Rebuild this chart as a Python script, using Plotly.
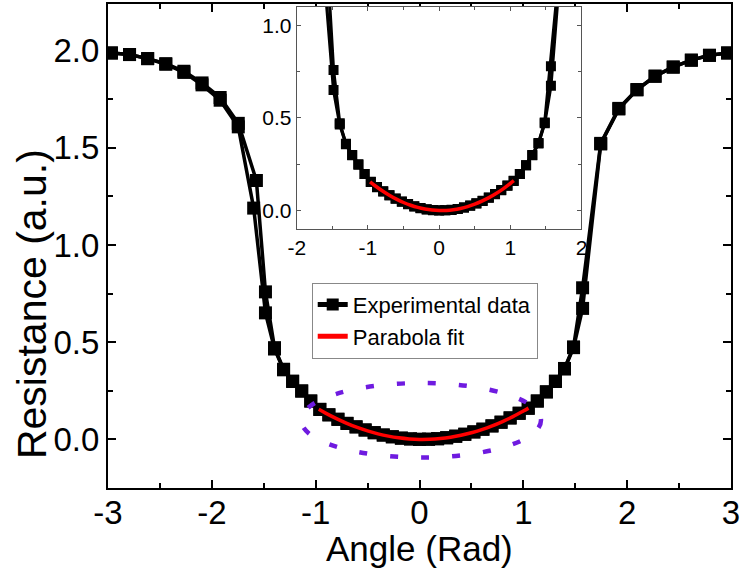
import numpy as np
import plotly.graph_objects as go

# Measured resistance vs. rotation angle (two sweeps, nearly identical)
angle_deg_a = [-170, -160, -150, -140, -130, -120, -110, -100, -90, -85, -80, -75, -70,
               -65, -60, -55, -50, -45, -40, -35, -30, -25, -20, -15, -10, -5, 0,
               5, 10, 15, 20, 25, 30, 35, 40, 45, 50, 55, 60, 65, 70, 75, 80, 85,
               90, 100, 110, 120, 130, 140, 150, 160, 170]
resistance_a = [1.988, 1.980, 1.959, 1.933, 1.894, 1.834, 1.759, 1.626, 1.332, 0.759,
                0.472, 0.361, 0.300, 0.250, 0.198, 0.155, 0.127, 0.104, 0.083, 0.065,
                0.049, 0.035, 0.023, 0.014, 0.007, 0.003, 0.001, 0.001, 0.004, 0.009,
                0.017, 0.027, 0.039, 0.053, 0.070, 0.089, 0.111, 0.135, 0.161, 0.198,
                0.245, 0.300, 0.365, 0.476, 0.780, 1.523, 1.703, 1.800, 1.869, 1.916,
                1.951, 1.976, 1.988]

angle_deg_b = [-170, -160, -150, -140, -130, -120, -110, -100, -91.5, -85, -80, -75, -70,
               -65, -60, -55, -50, -45, -40, -35, -30, -25, -20, -15, -10, -5, 0,
               5, 10, 15, 20, 25, 30, 35, 40, 45, 50, 55, 60, 65, 70, 75, 80, 85,
               90, 100, 110, 120, 130, 140, 150, 160, 170]
resistance_b = [1.988, 1.980, 1.959, 1.930, 1.888, 1.824, 1.745, 1.608, 1.190, 0.651,
                0.465, 0.358, 0.298, 0.248, 0.197, 0.154, 0.126, 0.103, 0.082, 0.064,
                0.048, 0.034, 0.022, 0.013, 0.006, 0.002, 0.000, 0.001, 0.003, 0.008,
                0.016, 0.026, 0.038, 0.052, 0.069, 0.088, 0.110, 0.134, 0.160, 0.197,
                0.244, 0.298, 0.362, 0.472, 0.674, 1.520, 1.700, 1.798, 1.868, 1.915,
                1.951, 1.976, 1.988]

# Parabola fit curve around zero angle
fit_angle = [-0.97, -0.9, -0.8, -0.7, -0.6, -0.5, -0.4, -0.3, -0.2, -0.1, 0.0,
             0.1, 0.2, 0.3, 0.4, 0.5, 0.6, 0.7, 0.8, 0.9, 1.0, 1.05]
fit_resistance = [0.155, 0.134, 0.107, 0.083, 0.0615, 0.0435, 0.0287, 0.0169, 0.0082,
                  0.0026, 0.0001, 0.0008, 0.0045, 0.0113, 0.0212, 0.0342, 0.0504,
                  0.0696, 0.0919, 0.117, 0.146, 0.161]

# Axis ticks
x_ticks = [-3, -2, -1, 0, 1, 2, 3]
x_tick_labels = ["-3", "-2", "-1", "0", "1", "2", "3"]
y_ticks = [0.0, 0.5, 1.0, 1.5, 2.0]
y_tick_labels = ["0.0", "0.5", "1.0", "1.5", "2.0"]
inset_x_ticks = [-2, -1, 0, 1, 2]
inset_x_tick_labels = ["-2", "-1", "0", "1", "2"]
inset_y_ticks = [0.0, 0.5, 1.0]
inset_y_tick_labels = ["0.0", "0.5", "1.0"]

x_a = np.deg2rad(angle_deg_a)
x_b = np.deg2rad(angle_deg_b)

FONT = "Liberation Sans, Arial, sans-serif"

fig = go.Figure()

for xa, ya, marker_size, line_w in [("x", "y", 13, 3.5), ("x2", "y2", 10, 3.2)]:
    fig.add_trace(go.Scatter(
        x=x_b, y=resistance_b, mode="lines+markers",
        line=dict(color="black", width=line_w),
        marker=dict(symbol="square", size=marker_size, color="black"),
        showlegend=False, xaxis=xa, yaxis=ya))
    fig.add_trace(go.Scatter(
        x=x_a, y=resistance_a, mode="lines+markers", name="Experimental data",
        line=dict(color="black", width=line_w),
        marker=dict(symbol="square", size=marker_size, color="black"),
        showlegend=(xa == "x"), xaxis=xa, yaxis=ya))
    fig.add_trace(go.Scatter(
        x=fit_angle, y=fit_resistance, mode="lines", name="Parabola fit",
        line=dict(color="#ff0000", width=3.5, shape="spline"),
        showlegend=(xa == "x"), xaxis=xa, yaxis=ya))

# Dotted ellipse highlighting the low-angle region
fig.add_shape(type="circle", xref="x", yref="y",
              x0=-1.14, x1=1.17, y0=-0.093, y1=0.29,
              line=dict(color="#6f1be0", width=4.5, dash="8px,23px"),
              layer="above")

# Axis titles
fig.add_annotation(text="Resistance (a.u.)", textangle=-90,
                   xref="paper", yref="paper", x=-0.122, y=0.38,
                   xanchor="center", yanchor="middle", showarrow=False,
                   font=dict(family=FONT, size=41, color="black"))
fig.add_annotation(text="Angle (Rad)",
                   xref="paper", yref="paper", x=0.5, y=-0.126,
                   xanchor="center", yanchor="middle", showarrow=False,
                   font=dict(family=FONT, size=35, color="black"))

main_axis = dict(showline=True, linecolor="black", linewidth=2, mirror="ticks",
                 ticks="inside", ticklen=8, tickwidth=2, tickcolor="black",
                 showgrid=False, zeroline=False,
                 tickfont=dict(family=FONT, size=33, color="black"))

fig.update_layout(
    width=742, height=575,
    margin=dict(l=108, r=10, t=2, b=87),
    plot_bgcolor="white", paper_bgcolor="white",
    font=dict(family=FONT, color="black"),
    xaxis=dict(main_axis, range=[-3, 3], tickvals=x_ticks, ticktext=x_tick_labels,
               minor=dict(dtick=0.5, ticks="inside", ticklen=5, tickwidth=2, tickcolor="black"),
               ticklabelstandoff=-6),
    yaxis=dict(main_axis, range=[-0.25, 2.24], tickvals=y_ticks, ticktext=y_tick_labels,
               minor=dict(dtick=0.25, ticks="inside", ticklen=5, tickwidth=2, tickcolor="black")),
    xaxis2=dict(domain=[0.303, 0.760], anchor="y2", range=[-2, 2],
                tickvals=inset_x_ticks, ticktext=inset_x_tick_labels,
                showline=True, linecolor="#555555", linewidth=1.2, mirror="ticks",
                ticks="inside", ticklen=4, tickwidth=1, tickcolor="#555555",
                minor=dict(dtick=0.5, ticks="inside", ticklen=3, tickwidth=1, tickcolor="#555555"),
                showgrid=False, zeroline=False,
                tickfont=dict(family=FONT, size=21, color="black")),
    yaxis2=dict(domain=[0.535, 0.994], anchor="x2", range=[-0.1, 1.1],
                tickvals=inset_y_ticks, ticktext=inset_y_tick_labels,
                showline=True, linecolor="#555555", linewidth=1.2, mirror="ticks",
                ticks="inside", ticklen=4, tickwidth=1, tickcolor="#555555",
                minor=dict(dtick=0.25, ticks="inside", ticklen=3, tickwidth=1, tickcolor="#555555"),
                showgrid=False, zeroline=False,
                tickfont=dict(family=FONT, size=21, color="black")),
    legend=dict(x=0.327, y=0.424, xanchor="left", yanchor="top",
                bgcolor="white", bordercolor="#888888", borderwidth=1,
                font=dict(family=FONT, size=22, color="black"),
                tracegroupgap=0, itemsizing="constant"),
)

fig.write_html("out.html")
